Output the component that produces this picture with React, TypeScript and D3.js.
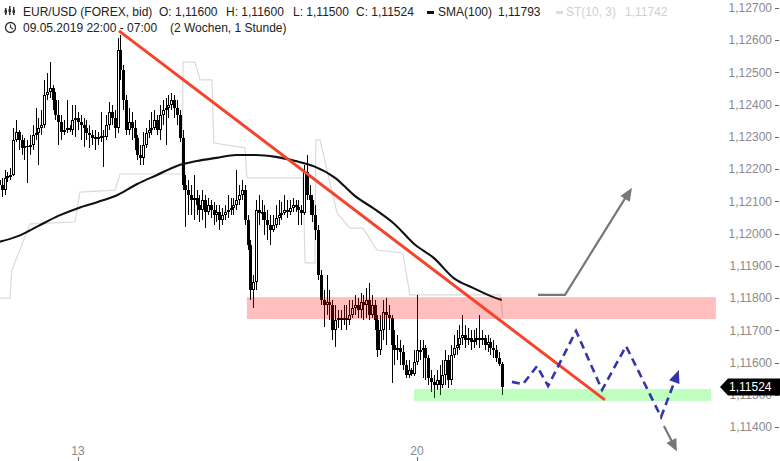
import React from "react";
import * as d3 from "d3";

// ---------- DATA (EUR/USD hourly) ----------
const firstOpen = 1.12166;
const closes = [
  1.12151, 1.12135, 1.12173, 1.12179, 1.12182, 1.1229, 1.12315, 1.1229, 1.12266, 1.12272,
  1.12269, 1.12275, 1.12306, 1.12312, 1.12328, 1.12337, 1.1243, 1.12439, 1.12452, 1.12415,
  1.12368, 1.12346, 1.12315, 1.12321, 1.12328, 1.12321, 1.12352, 1.12359, 1.12346, 1.12337,
  1.12328, 1.12312, 1.12306, 1.12297, 1.123, 1.123, 1.12303, 1.123, 1.12337, 1.12377,
  1.12359, 1.12328, 1.1257, 1.12508, 1.12415, 1.12321, 1.12346, 1.12328, 1.12297, 1.12244,
  1.12235, 1.12275, 1.12312, 1.12321, 1.12328, 1.12352, 1.12321, 1.12368, 1.12384, 1.1239,
  1.12399, 1.12415, 1.1239, 1.12368, 1.12297, 1.12151, 1.12135, 1.1212, 1.12104, 1.1211,
  1.12089, 1.12073, 1.12104, 1.12067, 1.12089, 1.12073, 1.12058, 1.12067, 1.12042, 1.12058,
  1.12067, 1.12073, 1.12079, 1.12089, 1.12104, 1.1212, 1.12135, 1.12042, 1.11965, 1.11825,
  1.1185, 1.12073, 1.12064, 1.12067, 1.12042, 1.12027, 1.12011, 1.12027, 1.12048, 1.12058,
  1.12064, 1.12073, 1.12067, 1.12079, 1.12089, 1.12083, 1.12073, 1.12064, 1.12191, 1.1212,
  1.12104, 1.12058, 1.12011, 1.11872, 1.11794, 1.11778, 1.11788, 1.11778, 1.11701, 1.11732,
  1.11738, 1.11732, 1.11738, 1.11732, 1.11747, 1.11769, 1.11778, 1.11763, 1.11788, 1.11778,
  1.11794, 1.11747, 1.11778, 1.11732, 1.11639, 1.11701, 1.11757, 1.11747, 1.11738, 1.11654,
  1.11639, 1.11645, 1.11633, 1.11592, 1.11561, 1.11577, 1.11564, 1.11602, 1.11639, 1.11639,
  1.11645, 1.11614, 1.11552, 1.1154, 1.1153, 1.11546, 1.1153, 1.11561, 1.11608, 1.11546,
  1.11623, 1.11645, 1.11654, 1.11676, 1.11685, 1.1167, 1.11676, 1.11664, 1.1167, 1.11676,
  1.1167, 1.11676, 1.11654, 1.11664, 1.11645, 1.11639, 1.11614, 1.11595, 1.11524,
];
const highs = [
  1.12191, 1.12173, 1.12197, 1.12191, 1.12204, 1.12328, 1.12352, 1.12321, 1.12306, 1.12297,
  1.1229, 1.12306, 1.12337, 1.1239, 1.12359, 1.12384, 1.12477, 1.12498, 1.12532, 1.12461,
  1.12439, 1.12415, 1.12368, 1.12352, 1.12415, 1.12337, 1.12399, 1.12399, 1.12377, 1.12368,
  1.12359, 1.12352, 1.12337, 1.12321, 1.12321, 1.12315, 1.12377, 1.12321, 1.12368, 1.12408,
  1.12399, 1.12384, 1.12607, 1.12616, 1.12523, 1.1243, 1.1239, 1.12377, 1.12352, 1.12306,
  1.12275, 1.12315, 1.12328, 1.12352, 1.12377, 1.12384, 1.12368, 1.12399, 1.12415, 1.12421,
  1.1243, 1.12436, 1.1243, 1.12415, 1.12384, 1.12321, 1.12182, 1.12166, 1.12151, 1.12182,
  1.12135, 1.1212, 1.12135, 1.1212, 1.1211, 1.12104, 1.12098, 1.12089, 1.12089, 1.12079,
  1.12089, 1.1212, 1.1211, 1.1211, 1.12197, 1.12151, 1.12166, 1.12151, 1.12058, 1.1198,
  1.11872, 1.12104, 1.1212, 1.12104, 1.12089, 1.12073, 1.12058, 1.12058, 1.12089, 1.12104,
  1.12098, 1.1212, 1.12104, 1.12104, 1.1211, 1.12104, 1.12104, 1.12089, 1.12213, 1.12244,
  1.12151, 1.1212, 1.12089, 1.12027, 1.11887, 1.11825, 1.11872, 1.11825, 1.11794, 1.11778,
  1.11763, 1.11763, 1.11778, 1.11778, 1.11794, 1.11794, 1.1181, 1.118, 1.11816, 1.1181,
  1.11831, 1.11847, 1.1181, 1.11794, 1.11747, 1.11747, 1.11794, 1.118, 1.11778, 1.11747,
  1.11701, 1.11685, 1.1167, 1.11654, 1.11608, 1.11608, 1.11583, 1.11639, 1.1181, 1.1167,
  1.1167, 1.11654, 1.11623, 1.11577, 1.11561, 1.11577, 1.11592, 1.11608, 1.11639, 1.11623,
  1.11654, 1.11685, 1.11701, 1.11716, 1.11747, 1.11716, 1.11707, 1.11701, 1.11701, 1.11707,
  1.11747, 1.11701, 1.11685, 1.11685, 1.11676, 1.1167, 1.11654, 1.11633, 1.11602,
];
const lows = [
  1.12089, 1.12114, 1.1212, 1.1216, 1.12166, 1.12179, 1.12284, 1.12259, 1.12244, 1.12228,
  1.12157, 1.12244, 1.12259, 1.1229, 1.12213, 1.12306, 1.12328, 1.12415, 1.12421, 1.12384,
  1.12352, 1.12275, 1.1229, 1.12306, 1.12312, 1.12315, 1.12306, 1.123, 1.12321, 1.1229,
  1.12269, 1.1229, 1.12266, 1.12275, 1.12259, 1.12275, 1.12284, 1.12207, 1.1229, 1.12321,
  1.12337, 1.12297, 1.12312, 1.12477, 1.12384, 1.12306, 1.12306, 1.1229, 1.12259, 1.12228,
  1.12213, 1.12213, 1.12266, 1.12297, 1.12306, 1.12321, 1.12306, 1.1229, 1.12337, 1.12275,
  1.12359, 1.12384, 1.12359, 1.12337, 1.12284, 1.12135, 1.1202, 1.12058, 1.12058, 1.12042,
  1.12058, 1.12036, 1.12042, 1.12017, 1.12058, 1.12048, 1.12027, 1.12036, 1.12011, 1.12027,
  1.12042, 1.12048, 1.12058, 1.12058, 1.12073, 1.12089, 1.12104, 1.12027, 1.11949, 1.11794,
  1.11769, 1.11825, 1.12027, 1.12042, 1.11996, 1.1198, 1.11965, 1.12005, 1.12017, 1.12027,
  1.12042, 1.12058, 1.12048, 1.12058, 1.12067, 1.12067, 1.12027, 1.12027, 1.12058, 1.12104,
  1.12058, 1.12036, 1.1198, 1.11856, 1.11778, 1.1171, 1.11747, 1.11732, 1.1167, 1.11648,
  1.11707, 1.11701, 1.11716, 1.11701, 1.11716, 1.11738, 1.11747, 1.11738, 1.11738, 1.11732,
  1.11738, 1.11732, 1.11738, 1.11701, 1.11617, 1.11623, 1.1167, 1.11654, 1.11701, 1.11536,
  1.11592, 1.11608, 1.11592, 1.11577, 1.11552, 1.11552, 1.11558, 1.11558, 1.11592, 1.11608,
  1.11552, 1.11546, 1.1153, 1.11509, 1.1149, 1.11515, 1.11499, 1.11521, 1.1153, 1.11521,
  1.1153, 1.11614, 1.11623, 1.11639, 1.11654, 1.11645, 1.11654, 1.11639, 1.11645, 1.11654,
  1.11645, 1.11654, 1.11639, 1.11633, 1.11623, 1.11614, 1.11602, 1.11589, 1.11499,
];

// SMA(100) read at candle indices
const smaIdx = [0, 7, 14, 21, 28, 35, 42, 49, 56, 63, 70, 77, 84, 91, 98, 105, 112, 119, 126, 133, 140, 147, 154, 161, 168, 175, 178];
const smaVals = [
  1.11974, 1.11993, 1.12024, 1.12055, 1.12079, 1.12098, 1.1212, 1.12154, 1.12182, 1.1221,
  1.12225, 1.12235, 1.12244, 1.12244, 1.12238, 1.12225, 1.12207, 1.12173, 1.12117, 1.12076,
  1.1203, 1.11968, 1.11924, 1.11862, 1.11831, 1.11803, 1.11794,
];

// SuperTrend ST(10,3)
const stIdx = [0.4, 3.9, 4.6, 11, 26.9, 28.7, 41.1, 42.9, 64.8, 65.2, 69.4, 71.2, 75.4, 76.1, 87.1, 87.8, 107.6, 108.4, 111.9, 112.2, 113.7, 117.2, 119.7, 124.3, 128.9, 133.8, 143, 145.5, 177.4, 178.4];
const stVals = [1.118, 1.118, 1.11887, 1.1203, 1.12036, 1.12129, 1.12135, 1.12185, 1.12185, 1.12532, 1.12532, 1.12477, 1.12477, 1.12281, 1.12266, 1.12173, 1.12173, 1.11909, 1.11909, 1.1229, 1.1229, 1.12157, 1.12064, 1.12017, 1.12017, 1.11949, 1.1194, 1.1181, 1.1181, 1.11741];

// drawings (index, price)
const trendIdx = [42.5, 214.5];
const trendVals = [1.12629, 1.11484];
const resistZone = { i0: 87.8, i1: 253.8, lo: 1.11735, hi: 1.11803 };
const supportZone = { i0: 146.9, i1: 252.1, lo: 1.11481, hi: 1.11518 };
const zigIdx = [181.6, 185.5, 190.5, 194.4, 204.3, 213.5, 222.0, 234.4, 240.7];
const zigVals = [1.1154, 1.11533, 1.11589, 1.11527, 1.11698, 1.11515, 1.11651, 1.11431, 1.11577];
const upArrowIdx = [190.8, 200.4, 224.1];
const upArrowVals = [1.1181, 1.1181, 1.12142];
const downArrowIdx = [235.4, 240.0];
const downArrowVals = [1.11403, 1.11325];

const yTicks = [1.127, 1.126, 1.125, 1.124, 1.123, 1.122, 1.121, 1.12, 1.119, 1.118, 1.117, 1.116, 1.115, 1.114];
const xTickIdx = [28, 148];
const xTickLabels = ["13", "20"];
const lastPrice = 1.11524;

const FONT = "'Liberation Sans', Arial, sans-serif";
const fmt = (v: number) => v.toFixed(5).replace(".", ",");

function arrowHead(x1: number, y1: number, x2: number, y2: number, len: number, w: number) {
  const a = Math.atan2(y2 - y1, x2 - x1);
  const bx = x2 - len * Math.cos(a);
  const by = y2 - len * Math.sin(a);
  const px = (w / 2) * Math.cos(a + Math.PI / 2);
  const py = (w / 2) * Math.sin(a + Math.PI / 2);
  return `${x2},${y2} ${bx + px},${by + py} ${bx - px},${by - py}`;
}

export default function App() {
  const W = 780, H = 461;
  const x = d3.scaleLinear().domain([28, 148]).range([78, 417]);
  const y = d3.scaleLinear().domain([1.114, 1.127]).range([427, 8]);

  const candles = closes.map((c, i) => {
    const o = i === 0 ? firstOpen : closes[i - 1];
    const h = Math.max(highs[i] ?? c, o, c);
    const l = Math.min(lows[i] ?? c, o, c);
    return { i, o, h, l, c };
  });

  const smaPath = d3.line<[number, number]>().x((d) => x(d[0])).y((d) => y(d[1])).curve(d3.curveMonotoneX)(
    smaIdx.map((d, k) => [d, smaVals[k]]) as [number, number][]
  );
  const stPath = d3.line<[number, number]>().x((d) => x(d[0])).y((d) => y(d[1]))(
    stIdx.map((d, k) => [d, stVals[k]]) as [number, number][]
  );
  const zigPts = zigIdx.map((d, k) => [x(d), y(zigVals[k])] as [number, number]);
  const zl = zigPts.length;
  const lastSeg: [number, number] = [
    zigPts[zl - 1][0] - 0.15 * (zigPts[zl - 1][0] - zigPts[zl - 2][0]),
    zigPts[zl - 1][1] - 0.15 * (zigPts[zl - 1][1] - zigPts[zl - 2][1]),
  ];
  const zigPath = d3.line()(zigPts.slice(0, -1).concat([lastSeg]));
  const upPts = upArrowIdx.map((d, k) => [x(d), y(upArrowVals[k])] as [number, number]);
  const dnPts = downArrowIdx.map((d, k) => [x(d), y(downArrowVals[k])] as [number, number]);

  const ly = y(lastPrice);

  return (
    <svg width={W} height={H} style={{ position: "absolute", left: 0, top: 0, background: "#fff" }} fontFamily={FONT}>
      {/* SuperTrend */}
      <path d={stPath ?? ""} fill="none" stroke="#dadada" strokeWidth={1.2} />
      {/* candles */}
      <g shapeRendering="crispEdges">
        {candles.map((d) => {
          const cx = Math.round(x(d.i));
          const up = d.c >= d.o;
          const top = Math.round(y(Math.max(d.o, d.c)));
          const bot = Math.round(y(Math.min(d.o, d.c)));
          const bh = Math.max(1, bot - top);
          return (
            <g key={d.i}>
              <line x1={cx + 0.5} x2={cx + 0.5} y1={y(d.h)} y2={y(d.l)} stroke="#000" strokeWidth={1} />
              {up ? (
                <rect x={cx - 0.5} y={top + 0.5} width={2} height={Math.max(0.5, bh - 1)} fill="#fff" stroke="#000" strokeWidth={1} />
              ) : (
                <rect x={cx - 1} y={top} width={3} height={bh} fill="#000" />
              )}
            </g>
          );
        })}
      </g>
      {/* SMA 100 */}
      <path d={smaPath ?? ""} fill="none" stroke="#111" strokeWidth={2.1} />
      {/* zones */}
      <rect x={x(resistZone.i0)} y={y(resistZone.hi)} width={x(resistZone.i1) - x(resistZone.i0)} height={y(resistZone.lo) - y(resistZone.hi)} fill="rgba(255,0,0,0.25)" />
      <rect x={x(supportZone.i0)} y={y(supportZone.hi)} width={x(supportZone.i1) - x(supportZone.i0)} height={y(supportZone.lo) - y(supportZone.hi)} fill="rgba(0,255,0,0.25)" />
      {/* trend line */}
      <line x1={x(trendIdx[0])} y1={y(trendVals[0])} x2={x(trendIdx[1])} y2={y(trendVals[1])} stroke="#f4452c" strokeWidth={3} />
      {/* zigzag projection */}
      <path d={zigPath ?? ""} fill="none" stroke="#3535a8" strokeWidth={2.6} strokeDasharray="8,5" />
      <polygon points={arrowHead(zigPts[zl - 2][0], zigPts[zl - 2][1], zigPts[zl - 1][0], zigPts[zl - 1][1], 13, 11)} fill="#3535a8" />
      {/* gray arrows */}
      <polyline points={upPts.slice(0, 2).map((p) => p.join(",")).join(" ") + " " + [upPts[2][0] - 6, upPts[2][1] + 9].join(",")} fill="none" stroke="#777" strokeWidth={2.2} />
      <polygon points={arrowHead(upPts[1][0], upPts[1][1], upPts[2][0], upPts[2][1], 13, 11)} fill="#777" />
      <line x1={dnPts[0][0]} y1={dnPts[0][1]} x2={dnPts[0][0] + (dnPts[1][0] - dnPts[0][0]) * 0.6} y2={dnPts[0][1] + (dnPts[1][1] - dnPts[0][1]) * 0.6} stroke="#777" strokeWidth={2.2} />
      <polygon points={arrowHead(dnPts[0][0], dnPts[0][1], dnPts[1][0], dnPts[1][1], 12, 11)} fill="#777" />

      {/* right axis */}
      {yTicks.map((t) => (
        <g key={t}>
          <text x={772} y={y(t)} dy="0.35em" textAnchor="end" fontSize={12} fill="#8a8a8a">{fmt(t)}</text>
          <line x1={775} x2={779} y1={Math.round(y(t)) + 0.5} y2={Math.round(y(t)) + 0.5} stroke="#666" />
        </g>
      ))}
      {/* last price label */}
      <polygon points={`720,${ly} 728,${ly - 8.5} 780,${ly - 8.5} 780,${ly + 8.5} 728,${ly + 8.5}`} fill="#000" />
      <text x={729} y={ly} dy="0.36em" fontSize={12} fill="#fff">{fmt(lastPrice)}</text>

      {/* bottom axis */}
      {xTickIdx.map((t, k) => (
        <g key={t}>
          <text x={x(t)} y={455} textAnchor="middle" fontSize={12} fill="#8a8a8a">{xTickLabels[k]}</text>
          <line x1={Math.round(x(t)) + 0.5} x2={Math.round(x(t)) + 0.5} y1={457} y2={461} stroke="#666" />
        </g>
      ))}

      {/* header */}
      <g fontSize={12} fill="#222">
        <g fill="#333">
          <rect x={5} y={8} width={1.5} height={7} />
          <rect x={9} y={6} width={1.5} height={9} />
          <rect x={13} y={7} width={1.5} height={8} />
          <rect x={4.5} y={10} width={2.5} height={3} />
          <rect x={8.5} y={9} width={2.5} height={3} />
          <rect x={12.5} y={10} width={2.5} height={3} />
        </g>
        <text x={23} y={16}>EUR/USD (FOREX, bid)</text>
        <text x={159} y={16}>O: 1,11600</text>
        <text x={226} y={16}>H: 1,11600</text>
        <text x={293} y={16}>L: 1,11500</text>
        <text x={356} y={16}>C: 1,11524</text>
        <rect x={427} y={11} width={7} height={3} fill="#111" />
        <text x={438} y={16}>SMA(100)</text>
        <text x={498} y={16}>1,11793</text>
        <rect x={556} y={11} width={7} height={3} fill="#ddd" />
        <text x={566} y={16} fill="#d0d0d0">ST(10, 3)</text>
        <text x={625} y={16} fill="#d0d0d0">1,11742</text>
        <circle cx={10.5} cy={27.5} r={5} fill="none" stroke="#333" strokeWidth={1.3} />
        <polyline points="10.5,24.5 10.5,27.5 13,29" fill="none" stroke="#333" strokeWidth={1.2} />
        <text x={23} y={32}>09.05.2019 22:00 - 07:00</text>
        <text x={170} y={32}>(2 Wochen, 1 Stunde)</text>
      </g>
    </svg>
  );
}
